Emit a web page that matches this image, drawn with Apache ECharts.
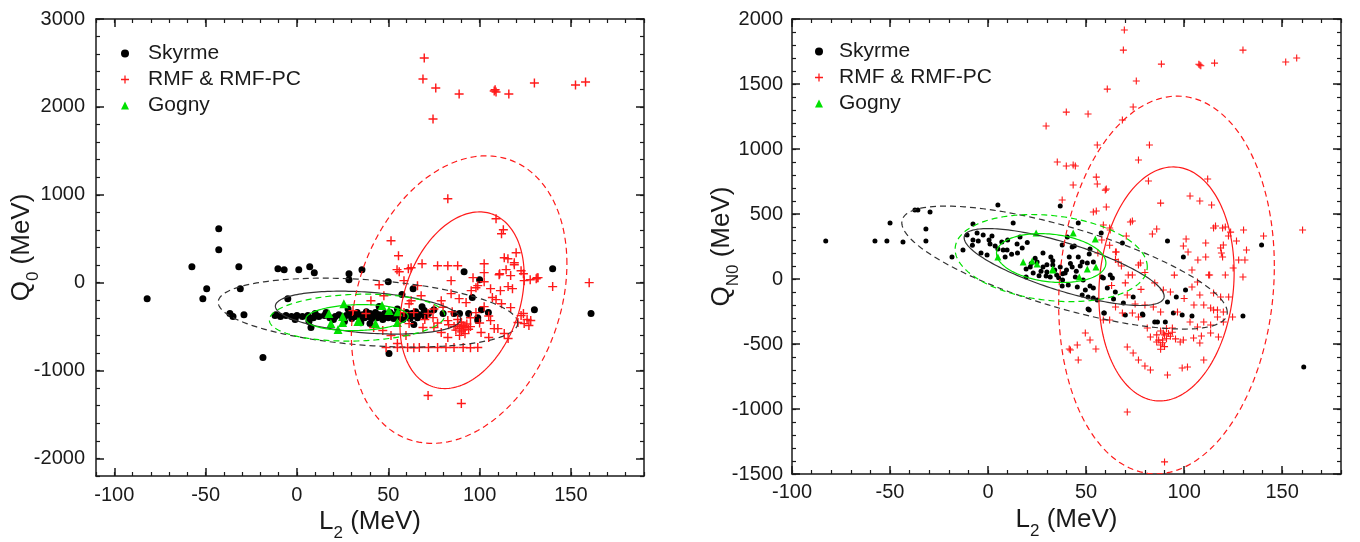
<!DOCTYPE html>
<html>
<head>
<meta charset="utf-8">
<script src="https://cdn.jsdelivr.net/npm/echarts@6/dist/echarts.min.js"></script>
<style>
  html, body { margin: 0; padding: 0; background: #fff; }
  #main { width: 1360px; height: 542px; }
</style>
</head>
<body>
<div id="main"></div>
<script>
// ---- left panel: L2 vs Q0 ----
const L_SKYRME = [
  [-82, -182], [-57.5, 182], [-51.5, -182], [-49.4, -68], [-42.8, 613], [-42.8, 375], [-36.7, -352], [-35, -386],
  [-31.8, 182], [-31, -68], [-29, -364], [-18.6, -852], [-10.4, 159], [-7, 148], [1, 148], [7, 182], [9.5, 114],
  [28.5, 102], [28.5, 34], [35.6, 148], [-5, -182], [50.4, -807], [57.5, -136], [50, 11], [63.6, -68], [91.5, 125],
  [100, 34], [140, 159], [161, -352], [130, -307], [96, -170], [101, -307], [104.8, -341], [99, -398], [99, -432],
  [94, -352], [89, -352], [86, -352], [75, -307], [69.7, -318], [68.5, -273], [66, -398], [64, -477], [80, -352],
  [7.7, -511], [6.6, -443], [-11.5, -364],
  [-12, -375], [-9, -386], [-6, -375], [-3, -386], [0, -375], [3, -386], [6, -375], [9, -398], [12, -386], [15, -375],
  [18, -398], [21, -386], [23, -364], [25, -398], [27, -375], [29, -352], [30, -409], [32, -386], [33, -341], [34, -375],
  [35, -420], [36, -364], [37, -398], [38, -330], [39, -386], [40, -352], [41, -409], [42, -375], [43, -341], [44, -398],
  [45, -364], [46, -386], [47, -420], [48, -352], [49, -375], [50, -398], [51, -341], [52, -364], [53, -409], [54, -386],
  [55, -352], [56, -375], [57, -398], [58, -420], [59, -364], [60, -341], [61, -386], [62, -409], [63, -352], [64, -375],
  [65, -330], [67, -364], [70, -386], [72, -352], [-1, -420], [10, -352], [16, -341], [20, -420], [26, -443],
  [35, -455], [45, -270], [55, -300], [28, -300], [40, -466]
];
const L_RMF = [
  [69.7, 2556], [69, 2317], [76, 2215], [88.8, 2147], [108, 2181], [109, 2170], [108.5, 2195], [116, 2147], [130, 2272],
  [152.5, 2249], [158, 2283], [74.5, 1863], [82.6, 954],
  [51.5, 477], [55.6, 307], [54.8, 148], [56, 125], [62.5, 170], [68.5, 216], [77, 193], [82.6, 193], [88, 193],
  [102.5, 216], [109, 727], [112, 557], [113, 602], [113.5, 284], [119, 227], [120, 341], [119, 204], [111, 102],
  [124, 102], [131.5, 57], [102.5, 114], [114.5, 148], [115.5, 273], [122.7, 136], [132, 57], [140, -45], [160, 0],
  [61, 159], [110.7, 91], [124.4, 23], [127.7, 34], [131, 45], [117, 80], [115.6, -45], [118, -68], [111.4, -91],
  [106, -68], [98, -57], [102.5, 11], [107, -170], [112, -239], [117, -284], [122.7, -375], [124.4, -466], [127, -488],
  [115.6, -636], [113.5, -579], [110, -523], [100.8, -568], [105, -625], [82.6, -625], [79, -568], [75, -511],
  [82.6, -432], [74.5, -398], [79, -205], [84.4, -125], [88.8, -182], [95.4, -91], [99, -34], [96.4, 57], [92.6, -227],
  [68, -148], [62.5, -205], [58.6, 23], [84.4, 23], [45, -23], [47.6, -148], [40.5, -205], [30.7, -318], [37.8, -352],
  [42, -511], [47, -545], [51.5, -602], [55, -693], [59.7, -602], [61.4, -466], [58.6, -341], [64, -341], [69, -511],
  [71.8, -352], [61.4, -239], [66, -34], [71.8, -1284], [90, -1375],
  [48.8, -738], [55, -738], [60.6, -738], [64, -740], [67, -738], [72, -738], [77, -738], [81.6, -738], [86, -738],
  [91, -738], [95, -740], [99, -738],
  [88, -480], [89, -520], [90, -500], [91, -540], [92, -510], [93, -470], [90, -560], [87, -540], [94, -530], [91, -490],
  [89, -600], [92, -580], [86, -500], [95, -500], [90, -450],
  [124, -352], [126, -420], [121, -454], [128, -430], [109, -193], [102.5, -273], [98, -341], [106, -432], [108, -523],
  [75, -300], [80, -280], [85, -330], [70, -420], [77, -460], [83, -480], [88, -420], [95, -400], [100, -460], [105, -380]
];
const L_GOGNY = [
  [25.7, -239], [17.5, -352], [25, -386], [18.6, -466], [25, -454], [22.5, -534], [33.4, -443], [43, -466],
  [46.6, -261], [50.4, -318], [55, -454], [55.3, -330], [34, -443]
];
// ellipses: [centre L2, centre Q, sigma L2, sigma Q, correlation]; first 68 %, second 95 %
const L_SKYRME_ELL = [[38.9, -341, 50.7, 244, -0.3], [38.9, -341, 82, 392, -0.3]];
const L_RMF_ELL = [[90.4, -200, 34, 1005, 0.28], [88.8, -193, 59, 1636, 0.25]];
const L_GOGNY_ELL = [[32.9, -398, 28, 148, 0.1], [32.9, -398, 48, 267, 0.1]];
const L_X_MAJOR = [-100, -50, 0, 50, 100, 150];
const L_Y_MAJOR = [-2000, -1000, 0, 1000, 2000, 3000];

// ---- right panel: L2 vs QN0 ----
const R_SKYRME = [
  [-82.8, 292], [-57.7, 292], [-51.6, 292], [-43.4, 285], [-50, 431], [-37.3, 531], [-35.8, 531], [-29.6, 515],
  [-31.7, 385], [-31.7, 292], [5, 569], [-18.4, 169], [-12.8, 223], [-7.7, 423], [12.8, 431],
  [-10.7, 338], [-7.7, 300], [-5.6, 354], [-5, 292], [-2.5, 338], [0.5, 300], [1, 269], [-3.6, 200], [-0.5, 185],
  [3.6, 254], [7, 285], [7.7, 223], [8.7, 169], [9.7, 223], [14.8, 269], [17.4, 238], [16.3, 323], [19.4, 77],
  [19.4, 15], [23, 46], [28, 200], [32, 169], [28, 92], [30, 54], [31.7, 15], [33, 108], [34, 69], [35, 31],
  [36.8, 92], [39.3, 46], [38, -8], [37.8, -54], [41.4, 169], [42.9, 92], [44.5, 15], [46, 431], [40.4, 323],
  [42.9, 246], [44, 254], [46, 169], [48, 131], [50.6, 123], [53.7, 131], [51.6, 192], [40.9, -46], [45.5, -62],
  [48.5, -8], [49.6, -85], [52, -54], [53.7, -69], [57.7, 354], [37.8, 261], [58, 15], [62.3, 31], [53.7, -146],
  [51.6, -238], [59.3, -262], [21.5, 92], [29.6, 23], [36.8, 561],
  [68.5, 277], [52, 231], [91.5, 292], [99.6, 169], [58.8, 8], [63.4, 8], [60.8, -69], [64.9, -100], [69, -185],
  [74, -138], [78.7, -269], [86.4, -331], [91.5, -177], [96, -138], [100.7, -85], [94.5, -262], [99, -277], [104, -285],
  [130, -285], [64, -154], [51, -138], [48, -123], [55.7, -162], [161, -677], [51, -231], [59, -262], [70, -277],
  [79, -277], [85, -331], [90.4, -331], [139.5, 262],
  [25, 130], [27, 60], [33, 140], [36, 10], [40, 70], [42, 120], [30, 110], [38, 40], [45, 60], [47, 100], [24, 160],
  [26, 25], [10, 300], [12, 190], [5, 230], [2, 330], [-8, 260], [15, 200], [20, 280], [22, 120]
];
const R_RMF = [
  [69.5, 1915], [69, 1761], [130, 1761], [88.4, 1653], [108, 1646], [108.5, 1640], [107.5, 1652], [115.5, 1661],
  [151.8, 1669], [157.4, 1700], [75.6, 1523], [60.8, 1461], [74, 1323], [39.9, 1284], [51, 1269], [68.5, 1223],
  [29.6, 1177], [55.7, 1031], [82.3, 1031], [76.7, 915], [35.3, 900], [39.9, 869], [44.5, 869], [55.2, 784],
  [55.7, 731], [43.4, 723], [60.3, 692], [81.8, 754], [112, 769], [37.8, 608], [103, 638], [108, 600], [114, 569],
  [88, 584], [55.2, 523], [60.3, 554], [73.6, 446], [86, 385], [83.8, 346], [58.8, 415], [62.3, 377], [70.5, 331],
  [115, 392], [119.6, 392], [122.6, 331], [130.3, 377], [140.5, 331], [160.4, 377], [120, 262], [126.7, 292],
  [131.8, 223], [101, 308], [99.6, 254], [102, 208], [111, 277], [118.6, 238], [119, 200], [131, 146], [107, 146],
  [65.4, 208], [71.5, 31], [76.7, 108], [113, 31], [125, 85], [104, 69], [43.4, 877], [59.8, 684], [53.7, 515],
  [62, 392], [123.7, 361], [116, 408], [121, 400], [111, 169], [112.5, 31], [106.8, -23], [66.4, 131], [72.6, 438],
  [75, -192], [127.8, 146], [130, 15], [121, 31], [119.6, 169],
  [104, -62], [108, -123], [115, -108], [118.6, -138], [113.5, -223], [117, -238], [110, -331], [106.8, -369],
  [103, -331], [96.6, -254], [94, -377], [89.4, -415], [89, -469], [88, -508], [82.8, -446], [81.2, -377],
  [76.7, -292], [73.6, -262], [71, -523], [76.7, -623], [82.8, -700], [91.5, -738], [99, -685], [101.7, -677],
  [110, -623], [46, -623], [42, -546], [52, -469], [49.6, -415], [58.8, -315], [71, -123], [73.6, 31], [77.7, 123],
  [65, 208], [89.4, -85], [84.3, -215], [88, -254], [80, -200], [110, -200], [117, -292], [108, -492], [98, -485],
  [124.7, -292], [120, -254], [41.4, -538], [45.5, -508], [55, -538], [74, -569], [80, -669], [71, -1023], [90, -1407],
  [86, -485], [95.6, -461], [99.6, -469], [104.8, -454], [108.8, -438], [113.5, -415], [117.5, -446], [120, -331],
  [113.5, -354], [115, -238], [122.7, -138], [62, -315], [68.5, -262], [65, -215],
  [88, -400], [90, -430], [91, -460], [89, -490], [92, -420], [87, -470], [93, -440], [90, -520], [88, -540],
  [91, -380], [94, -410], [86, -430],
  [58, 300], [62, 260], [65, 150], [68, 100], [56, 200], [70, -30], [63, -50], [80, 50], [85, -30], [95, 30],
  [100, -150], [105, -200], [93, -100], [78, -80]
];
const R_GOGNY = [
  [24.5, 354], [43.4, 354], [54.7, 308], [5, 169], [17.9, 131], [22.5, 138], [25, 115], [33, 77], [50.6, 77],
  [55, 92], [46.5, 15], [33, 69]
];
const R_SKYRME_ELL = [[38.8, 92, 51, 296, -0.76], [39, 88, 83, 473, -0.73]];
const R_RMF_ELL = [[91, -38, 34.5, 900, 0.1], [91, -46, 55, 1453, 0.1]];
const R_GOGNY_ELL = [[32.2, 161, 27.9, 188, -0.2], [32.2, 161, 49, 335, -0.2]];
const R_X_MAJOR = [-100, -50, 0, 50, 100, 150];
const R_Y_MAJOR = [-1500, -1000, -500, 0, 500, 1000, 1500, 2000];

const SERIES_NAMES = ['Skyrme', 'RMF & RMF-PC', 'Gogny'];

const FONT = 'Liberation Sans, Arial, sans-serif';
const INK = '#1a1a1a';
const RED = '#ff1a1a';
const GREEN = '#00e000';
const PLUS = 'path://M4.2,0h1.6v10h-1.6zM0,4.2h10v1.6h-10z';

function steps(from, to, step) {
  const out = [];
  for (let v = from; v <= to + 1e-9; v += step) out.push(Math.round(v * 1000) / 1000);
  return out;
}

// four axes per side: labelled main, its minor ticks, mirrored major, mirrored minor
function axisSet(gi, dim, min, max, majors, minors, name, nameGap, labelMargin) {
  const isX = dim === 'x';
  const line = { show: true, onZero: false, lineStyle: { color: INK, width: 1.5 } };
  const noLine = { show: false, onZero: false };
  const base = { type: 'value', gridIndex: gi, min, max, splitLine: { show: false } };
  const pos = isX ? ['bottom', 'top'] : ['left', 'right'];
  const rich = {
    m: { fontSize: 26, lineHeight: 40, fontFamily: FONT, color: INK },
    s: { fontSize: 17, lineHeight: 17, verticalAlign: 'bottom', fontFamily: FONT, color: INK }
  };
  const majorTick = { show: true, inside: true, length: 8, customValues: majors, lineStyle: { color: INK, width: 1.5 } };
  const minorTick = { show: true, inside: true, length: 4, customValues: minors, lineStyle: { color: INK, width: 1.2 } };
  return [
    Object.assign({}, base, {
      position: pos[0], axisLine: line, axisTick: majorTick,
      axisLabel: {
        show: true, customValues: majors, margin: labelMargin, fontSize: 20, fontFamily: FONT, color: INK,
        formatter: (v) => String(v)
      },
      name, nameLocation: 'middle', nameGap, nameRotate: isX ? 0 : 90, nameMoveOverlap: false,
      nameTextStyle: { rich }
    }),
    Object.assign({}, base, { position: pos[0], axisLine: noLine, axisTick: minorTick, axisLabel: { show: false } }),
    Object.assign({}, base, { position: pos[1], axisLine: line, axisTick: majorTick, axisLabel: { show: false } }),
    Object.assign({}, base, { position: pos[1], axisLine: noLine, axisTick: minorTick, axisLabel: { show: false } })
  ];
}

function ellipseSeries(data, gi, color, dashed) {
  return {
    type: 'custom', xAxisIndex: gi * 4, yAxisIndex: gi * 4, clip: true, silent: true, z: 5,
    data, encode: { x: 0, y: 1 },
    renderItem: (params, api) => {
      const cx = api.value(0), cy = api.value(1), sx = api.value(2), sy = api.value(3), r = api.value(4);
      const k = Math.sqrt(1 - r * r);
      const points = [];
      for (let i = 0; i <= 180; i++) {
        const t = (i / 180) * Math.PI * 2;
        points.push(api.coord([cx + sx * Math.cos(t), cy + sy * (r * Math.cos(t) + k * Math.sin(t))]));
      }
      return {
        type: 'polyline', shape: { points },
        style: { stroke: color, lineWidth: 1.2, fill: null, lineDash: dashed ? [6, 4] : null }
      };
    }
  };
}

function scatter(name, data, gi, symbol, size, color) {
  return {
    name, type: 'scatter', xAxisIndex: gi * 4, yAxisIndex: gi * 4, data,
    symbol, symbolSize: size, itemStyle: { color, opacity: 1, borderWidth: 0 }, silent: true
  };
}

// square icon box, text pushed right so it starts ~24px after the icon centre
function legendFor(left, top, size, textPad) {
  return {
    left, top, orient: 'vertical', itemWidth: size, itemHeight: size, itemGap: 5,
    selectedMode: false,
    itemStyle: { borderWidth: 0 },
    textStyle: { fontSize: 21, lineHeight: 21, fontFamily: FONT, color: INK, padding: [0, 0, 0, textPad] },
    data: [
      { name: SERIES_NAMES[0], icon: 'circle', itemStyle: { color: '#000', borderWidth: 0 } },
      { name: SERIES_NAMES[1], icon: PLUS, itemStyle: { color: RED, borderWidth: 0 } },
      { name: SERIES_NAMES[2], icon: 'triangle', itemStyle: { color: GREEN, borderWidth: 0 } }
    ]
  };
}

const chart = echarts.init(document.getElementById('main'), null, { renderer: 'canvas' });

const xAxes = [].concat(
  axisSet(0, 'x', -110, 190, L_X_MAJOR, steps(-110, 190, 10), '{m|L}{s|2}{m| (MeV)}', 26, 9),
  axisSet(1, 'x', -100, 180, R_X_MAJOR, steps(-100, 180, 10), '{m|L}{s|2}{m| (MeV)}', 26, 8)
);
const yAxes = [].concat(
  axisSet(0, 'y', -2200, 3000, L_Y_MAJOR, steps(-2200, 3000, 200), '{m|Q}{s|0}{m| (MeV)}', 54, 11),
  axisSet(1, 'y', -1500, 2000, R_Y_MAJOR, steps(-1500, 2000, 100), '{m|Q}{s|N0}{m| (MeV)}', 50, 9)
);

chart.setOption({
  animation: false,
  backgroundColor: '#fff',
  textStyle: { fontFamily: FONT },
  grid: [
    { left: 96, right: 716, top: 19, bottom: 66, containLabel: false, outerBoundsMode: 'none' },
    { left: 792, right: 19, top: 19, bottom: 68, containLabel: false, outerBoundsMode: 'none' }
  ],
  legend: [legendFor(116, 38, 8, 14), legendFor(810, 36, 8, 11)],
  xAxis: xAxes,
  yAxis: yAxes,
  series: [
    scatter(SERIES_NAMES[0], L_SKYRME, 0, 'circle', 7, '#000'),
    scatter(SERIES_NAMES[1], L_RMF, 0, PLUS, 9, RED),
    scatter(SERIES_NAMES[2], L_GOGNY, 0, 'triangle', 9, GREEN),
    ellipseSeries([L_SKYRME_ELL[0]], 0, '#333', false),
    ellipseSeries([L_SKYRME_ELL[1]], 0, '#333', true),
    ellipseSeries([L_RMF_ELL[0]], 0, RED, false),
    ellipseSeries([L_RMF_ELL[1]], 0, RED, true),
    ellipseSeries([L_GOGNY_ELL[0]], 0, GREEN, false),
    ellipseSeries([L_GOGNY_ELL[1]], 0, GREEN, true),

    scatter(SERIES_NAMES[0], R_SKYRME, 1, 'circle', 5, '#000'),
    scatter(SERIES_NAMES[1], R_RMF, 1, PLUS, 7, RED),
    scatter(SERIES_NAMES[2], R_GOGNY, 1, 'triangle', 7, GREEN),
    ellipseSeries([R_SKYRME_ELL[0]], 1, '#333', false),
    ellipseSeries([R_SKYRME_ELL[1]], 1, '#333', true),
    ellipseSeries([R_RMF_ELL[0]], 1, RED, false),
    ellipseSeries([R_RMF_ELL[1]], 1, RED, true),
    ellipseSeries([R_GOGNY_ELL[0]], 1, GREEN, false),
    ellipseSeries([R_GOGNY_ELL[1]], 1, GREEN, true)
  ]
});
</script>
</body>
</html>
